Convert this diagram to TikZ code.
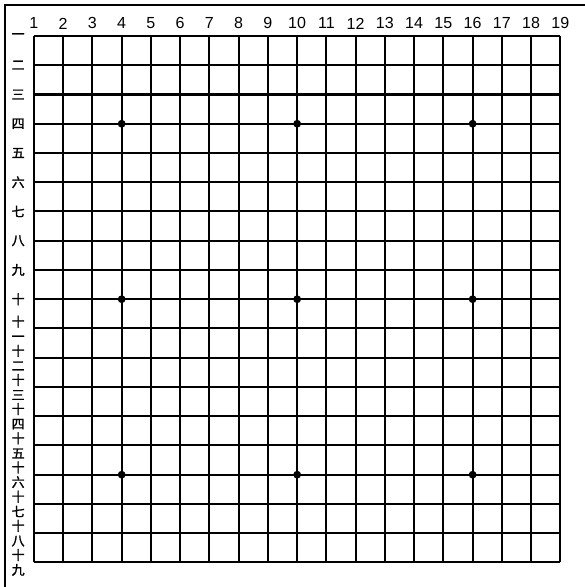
\documentclass[tikz,border=0pt]{standalone}
\usepackage{fontspec}
\setmainfont{Liberation Sans}
\newfontfamily\cjk[FakeBold=1.5]{Noto Sans CJK SC}
\usepackage{tikz}
\usetikzlibrary{positioning}

\begin{document}
\begin{tikzpicture}[
  x=0.5cm, y=-0.5cm,
  gridline/.style={line width=1pt},
  frameline/.style={line width=0.7pt},
  collabel/.style={font=\fontsize{7.8}{9}\selectfont, inner sep=0pt},
  rowlabel/.style={font=\cjk\fontsize{6.3}{7.2}\selectfont, align=center, inner sep=0pt},
  hoshi/.style={circle, fill=black, inner sep=0pt, minimum size=3.8pt}
]
\useasboundingbox (-0.16,-0.23) rectangle (19.84,19.84);
\draw[frameline] (0.01,19.84) -- (0.01,-0.06) -- (19.84,-0.06);
\foreach \i in {1,...,19} {
  \draw[gridline] (\i,1) -- (\i,19);
  \draw[gridline] (1,\i) -- (19,\i);
  \node[collabel] (col\i) at (\i,0.57) {\i};
}
\foreach \r/\t in {1/一,2/二,3/三,4/四,5/五,6/六,7/七,8/八,9/九,10/十,
  11/{十\\一},12/{十\\二},13/{十\\三},14/{十\\四},15/{十\\五},
  16/{十\\六},17/{十\\七},18/{十\\八},19/{十\\九}}
  \node[rowlabel] (row\r) at (0.46,\r) {\t};
\foreach \c in {4,10,16}
  \foreach \r in {4,10,16}
    \node[hoshi] (hoshi-\c-\r) at (\c,\r) {};
\end{tikzpicture}
\end{document}
